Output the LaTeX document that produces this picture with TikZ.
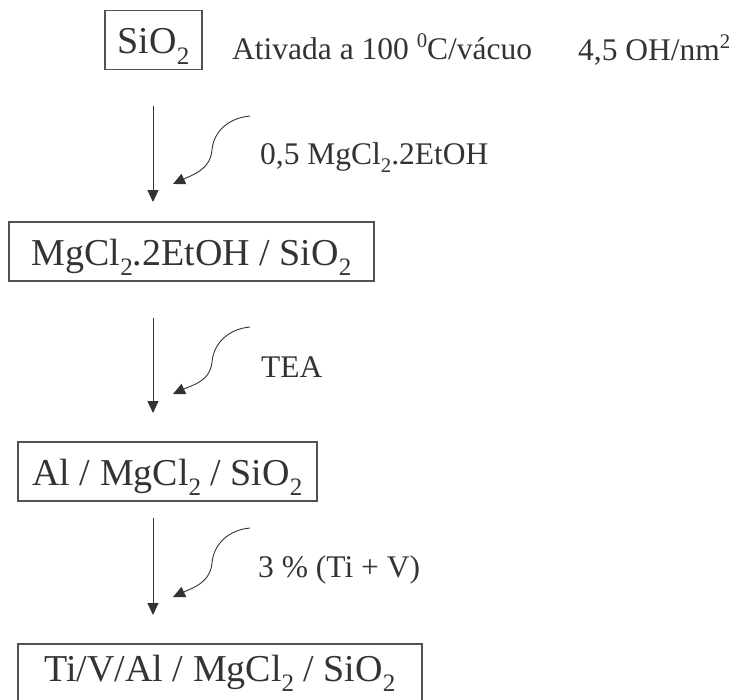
\documentclass[tikz,border=0pt]{standalone}
\usepackage{fontspec}
\setmainfont{Liberation Serif}
\usetikzlibrary{arrows.meta}
\definecolor{ink}{HTML}{333333}
\newcommand{\chsub}[1]{\raisebox{-0.28em}{\scalebox{0.66}{#1}}}
\newcommand{\chsup}[1]{\raisebox{0.38em}{\scalebox{0.66}{#1}}}

\begin{document}
\begin{tikzpicture}[
    x=1pt, y=1pt,
    every node/.style={text=ink},
    stage/.style={draw=ink!85, line width=1.1pt, inner xsep=0pt, inner ysep=8pt,
                  text height=35pt, text depth=8pt, font=\fontsize{38}{44}\selectfont},
    cond/.style={anchor=base west, inner sep=0pt, font=\fontsize{31.5}{36}\selectfont},
    flow/.style={draw=ink, line width=1pt, -{Triangle[length=12pt,width=11pt]}},
    reagent/.style={draw=ink, line width=0.9pt, -{Triangle[length=12pt,width=11pt]}}
]
\useasboundingbox (0,0) rectangle (736,-699);

\node[stage, minimum width=97pt] (silica) at (153.5,-40) {SiO\chsub{2}};
\node[stage, minimum width=365pt] (mgcl) at (191.5,-251.5) {MgCl\chsub{2}.2EtOH / SiO\chsub{2}};
\node[stage, minimum width=299pt] (alum) at (167.5,-471.5) {Al / MgCl\chsub{2} / SiO\chsub{2}};
% last box runs off the bottom edge
\node[stage, minimum width=404pt, text height=29pt, text depth=14pt] (tiv) at (220,-673.5)
    {Ti/V/Al / MgCl\chsub{2} / SiO\chsub{2}};

\node[cond] (activ) at (232,-59) {Ativada a 100 \chsup{0}C/vácuo};
\node[cond] (ohdens) at (578,-60) {4,5 OH/nm\chsup{2}};
\node[cond] (etoh) at (260,-164) {0,5 MgCl\chsub{2}.2EtOH};
\node[cond] (tea) at (261,-377) {TEA};
\node[cond] (tiv3) at (258,-577) {3 \% (Ti + V)};

% main steps
\coordinate (s1) at (153,-106);  \coordinate (e1) at (153,-202);
\coordinate (s2) at (153,-318);  \coordinate (e2) at (153,-413);
\coordinate (s3) at (153,-518);  \coordinate (e3) at (153,-615);
\draw[flow] (s1) -- (e1);
\draw[flow] (s2) -- (e2);
\draw[flow] (s3) -- (e3);

% reagent feeds
\coordinate (r1a) at (250,-116); \coordinate (r1b) at (212,-150); \coordinate (r1c) at (173,-184);
\coordinate (r2a) at (250,-327); \coordinate (r2b) at (212,-362); \coordinate (r2c) at (173,-394);
\coordinate (r3a) at (250,-528); \coordinate (r3b) at (212,-563); \coordinate (r3c) at (173,-597);
\draw[reagent] (r1a) to[out=185,in=85] (r1b) to[out=-95,in=25] (r1c);
\draw[reagent] (r2a) to[out=185,in=85] (r2b) to[out=-95,in=25] (r2c);
\draw[reagent] (r3a) to[out=185,in=85] (r3b) to[out=-95,in=25] (r3c);
\end{tikzpicture}
\end{document}
